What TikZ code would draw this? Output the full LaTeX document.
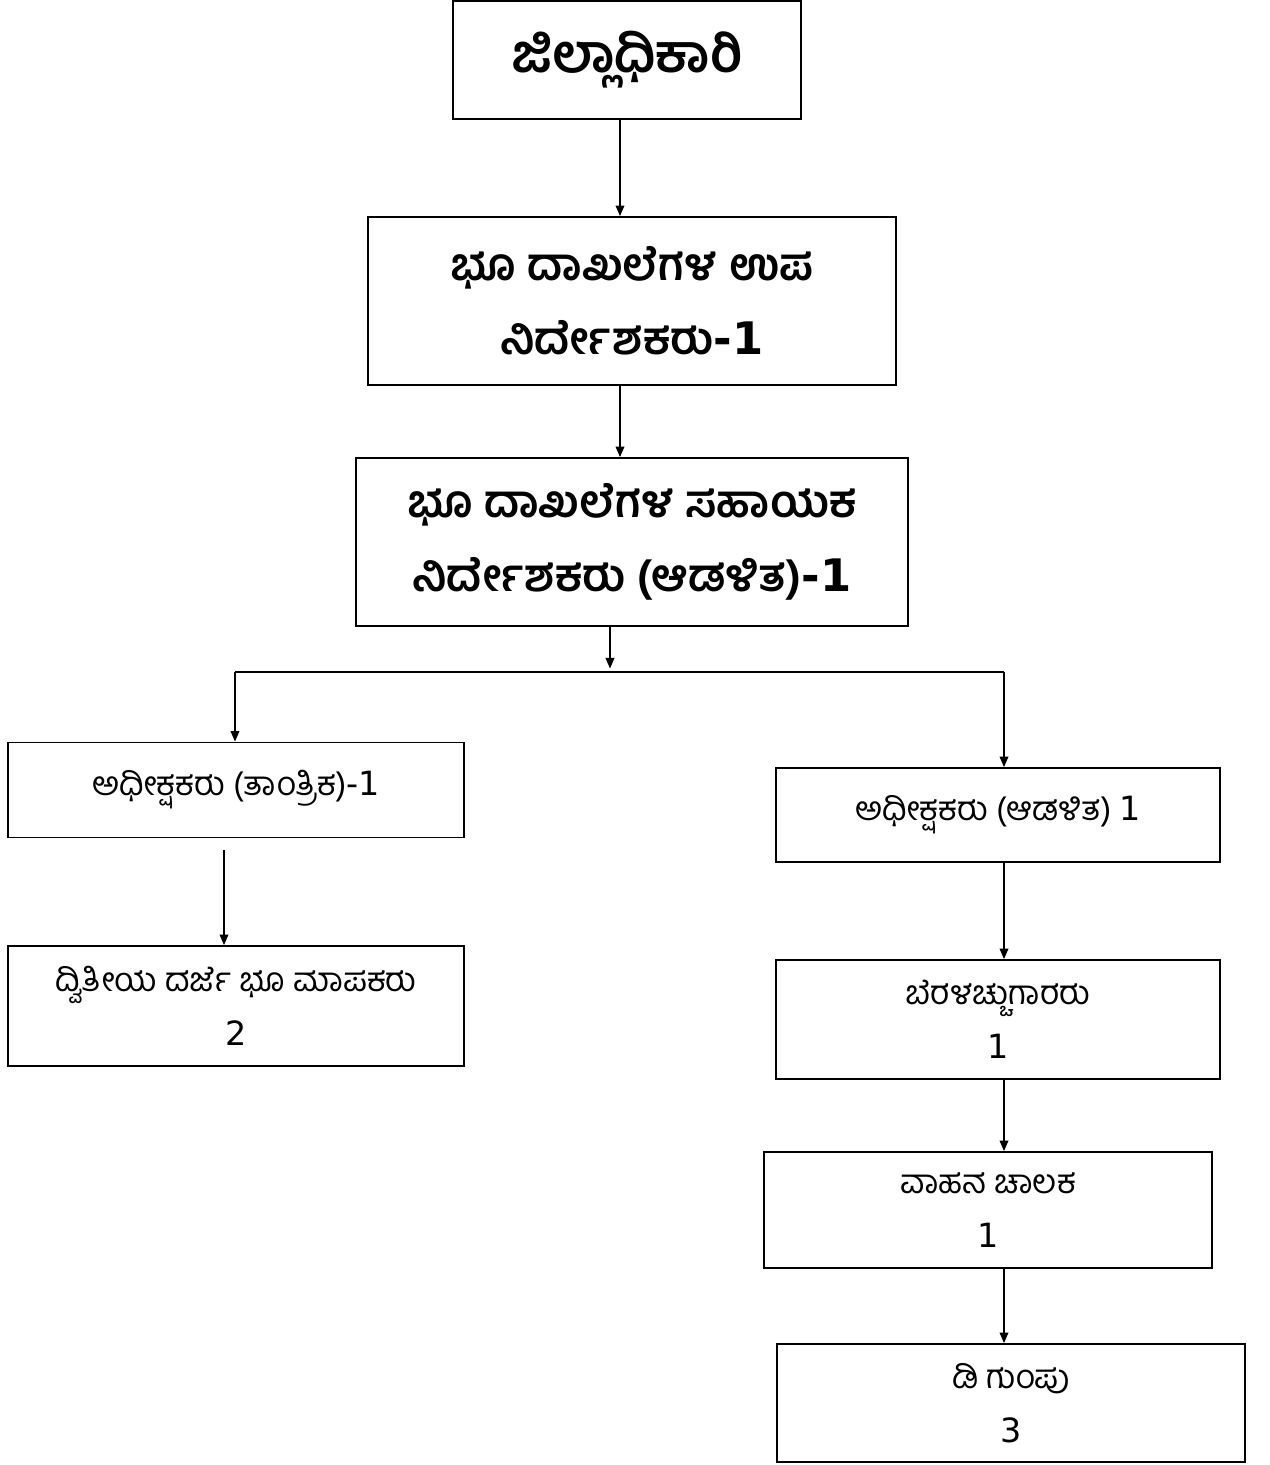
\documentclass[tikz,border=0pt]{standalone}
\usepackage{fontspec}
\newfontfamily\kn[Script=Kannada]{Hind Mysuru}
\newfontfamily\dv{DejaVu Sans}
\usetikzlibrary{arrows.meta}

\begin{document}
\begin{tikzpicture}[x=0.02cm, y=-0.02cm]
    \tikzset{box/.style={draw, line width=1.1pt, align=center, inner sep=0pt},
             head/.style={box, font=\kn\bfseries\fontsize{25.5}{42}\selectfont},
             post/.style={box, font=\kn\fontsize{19}{31}\selectfont},
             arr/.style={-{Triangle[length=6pt, width=5pt]}, line width=0.7pt}}
    \useasboundingbox (0,0) rectangle (1269,1465);
    % top of the chain
    \node[head, font=\kn\bfseries\fontsize{30}{42}\selectfont, minimum width=6.96cm, minimum height=2.36cm] (DC) at (627,60) {ಜಿಲ್ಲಾಧಿಕಾರಿ};
    \node[head, minimum width=10.56cm, minimum height=3.36cm] (DD) at (632,301)
        {ಭೂ ದಾಖಲೆಗಳ ಉಪ\\ನಿರ್ದೇಶಕರು{\dv\bfseries -1}};
    \node[head, minimum width=11.04cm, minimum height=3.36cm] (AD) at (632,542)
        {ಭೂ ದಾಖಲೆಗಳ ಸಹಾಯಕ\\ನಿರ್ದೇಶಕರು (ಆಡಳಿತ){\dv\bfseries -1}};
    % left branch
    \node[post, minimum width=9.12cm, minimum height=1.9cm] (ST) at (236,790)
        {ಅಧೀಕ್ಷಕರು (ತಾಂತ್ರಿಕ){\dv -1}};
    \node[post, minimum width=9.12cm, minimum height=2.4cm] (SU) at (236,1006)
        {ದ್ವಿತೀಯ ದರ್ಜೆ ಭೂ ಮಾಪಕರು\\{\dv 2}};
    % right branch
    \node[post, minimum width=8.88cm, minimum height=1.88cm] (SA) at (998,815)
        {ಅಧೀಕ್ಷಕರು (ಆಡಳಿತ) {\dv 1}};
    \node[post, minimum width=8.88cm, minimum height=2.38cm] (TY) at (998,1019.5)
        {ಬೆರಳಚ್ಚುಗಾರರು\\{\dv 1}};
    \node[post, minimum width=8.96cm, minimum height=2.32cm] (DR) at (988,1210)
        {ವಾಹನ ಚಾಲಕ\\{\dv 1}};
    \node[post, minimum width=9.36cm, minimum height=2.36cm] (GD) at (1011,1403)
        {ಡಿ ಗುಂಪು\\{\dv 3}};
    % connectors
    \coordinate (c) at (620,0);
    \coordinate (m) at (610,672);
    \coordinate (l) at (235,672);
    \coordinate (r) at (1004,672);
    \coordinate (lc) at (224,850);
    \draw[arr] (DC.south -| c) -- (DD.north -| c);
    \draw[arr] (DD.south -| c) -- (AD.north -| c);
    \draw[arr] (AD.south -| m) -- ([yshift=2pt]m);
    \draw[line width=0.7pt] (l) -- (r);
    \draw[arr] (l) -- (ST.north -| l);
    \draw[arr] (r) -- (SA.north -| r);
    \draw[arr] (lc) -- (SU.north -| lc);
    \draw[arr] (SA.south -| r) -- (TY.north -| r);
    \draw[arr] (TY.south -| r) -- (DR.north -| r);
    \draw[arr] (DR.south -| r) -- (GD.north -| r);
\end{tikzpicture}
\end{document}
